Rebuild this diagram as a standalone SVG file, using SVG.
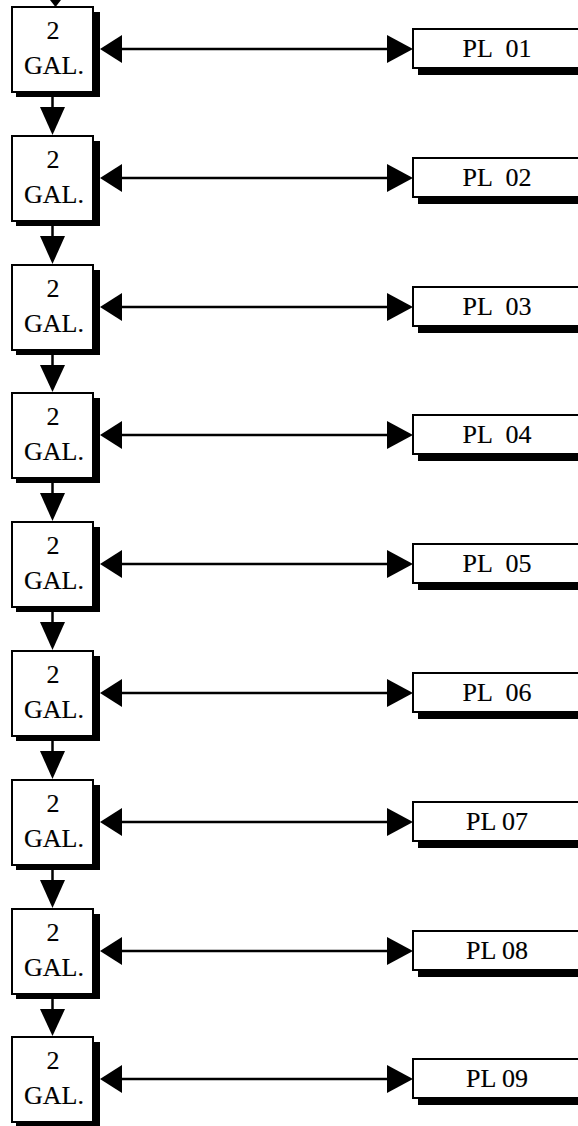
<svg xmlns="http://www.w3.org/2000/svg" width="578" height="1126" viewBox="0 0 578 1126">
<style>
.box{fill:#fff;stroke:#000;stroke-width:2}
.sh{fill:#000}
.ln{stroke:#000;stroke-width:2.5;fill:none}
.hd{fill:#000}
.t2{font-family:"Liberation Serif",serif;font-size:26px;text-anchor:middle;fill:#000;stroke:#000;stroke-width:0.15}
.tg{font-family:"Liberation Serif",serif;font-size:26px;text-anchor:middle;fill:#000;stroke:#000;stroke-width:0.15}
.tp{font-family:"Liberation Serif",serif;font-size:26px;text-anchor:middle;fill:#000;stroke:#000;stroke-width:0.15}
.wide{word-spacing:7px}
</style>
<rect width="578" height="1126" fill="#fff"/>
<g id="tank1" transform="translate(0,7)"><rect class="sh" x="16" y="5" width="84" height="85"/><rect class="box" x="12" y="0" width="81" height="85"/><text class="t2" x="53" y="32">2</text><text class="tg" x="54" y="67">GAL.</text></g>
<g id="tank2" transform="translate(0,136)"><rect class="sh" x="16" y="5" width="84" height="85"/><rect class="box" x="12" y="0" width="81" height="85"/><text class="t2" x="53" y="32">2</text><text class="tg" x="54" y="67">GAL.</text></g>
<g id="tank3" transform="translate(0,265)"><rect class="sh" x="16" y="5" width="84" height="85"/><rect class="box" x="12" y="0" width="81" height="85"/><text class="t2" x="53" y="32">2</text><text class="tg" x="54" y="67">GAL.</text></g>
<g id="tank4" transform="translate(0,393)"><rect class="sh" x="16" y="5" width="84" height="85"/><rect class="box" x="12" y="0" width="81" height="85"/><text class="t2" x="53" y="32">2</text><text class="tg" x="54" y="67">GAL.</text></g>
<g id="tank5" transform="translate(0,522)"><rect class="sh" x="16" y="5" width="84" height="85"/><rect class="box" x="12" y="0" width="81" height="85"/><text class="t2" x="53" y="32">2</text><text class="tg" x="54" y="67">GAL.</text></g>
<g id="tank6" transform="translate(0,651)"><rect class="sh" x="16" y="5" width="84" height="85"/><rect class="box" x="12" y="0" width="81" height="85"/><text class="t2" x="53" y="32">2</text><text class="tg" x="54" y="67">GAL.</text></g>
<g id="tank7" transform="translate(0,780)"><rect class="sh" x="16" y="5" width="84" height="85"/><rect class="box" x="12" y="0" width="81" height="85"/><text class="t2" x="53" y="32">2</text><text class="tg" x="54" y="67">GAL.</text></g>
<g id="tank8" transform="translate(0,909)"><rect class="sh" x="16" y="5" width="84" height="85"/><rect class="box" x="12" y="0" width="81" height="85"/><text class="t2" x="53" y="32">2</text><text class="tg" x="54" y="67">GAL.</text></g>
<g id="tank9" transform="translate(0,1037)"><rect class="sh" x="16" y="5" width="84" height="85"/><rect class="box" x="12" y="0" width="81" height="85"/><text class="t2" x="53" y="32">2</text><text class="tg" x="54" y="67">GAL.</text></g>

<g id="pl01" transform="translate(0,7)"><rect class="sh" x="418" y="29" width="200" height="39"/><rect class="box" x="413" y="22" width="200" height="39"/><text class="tp wide" x="497" y="50">PL 01</text></g>
<g id="pl02" transform="translate(0,136)"><rect class="sh" x="418" y="29" width="200" height="39"/><rect class="box" x="413" y="22" width="200" height="39"/><text class="tp wide" x="497" y="50">PL 02</text></g>
<g id="pl03" transform="translate(0,265)"><rect class="sh" x="418" y="29" width="200" height="39"/><rect class="box" x="413" y="22" width="200" height="39"/><text class="tp wide" x="497" y="50">PL 03</text></g>
<g id="pl04" transform="translate(0,393)"><rect class="sh" x="418" y="29" width="200" height="39"/><rect class="box" x="413" y="22" width="200" height="39"/><text class="tp wide" x="497" y="50">PL 04</text></g>
<g id="pl05" transform="translate(0,522)"><rect class="sh" x="418" y="29" width="200" height="39"/><rect class="box" x="413" y="22" width="200" height="39"/><text class="tp wide" x="497" y="50">PL 05</text></g>
<g id="pl06" transform="translate(0,651)"><rect class="sh" x="418" y="29" width="200" height="39"/><rect class="box" x="413" y="22" width="200" height="39"/><text class="tp wide" x="497" y="50">PL 06</text></g>
<g id="pl07" transform="translate(0,780)"><rect class="sh" x="418" y="29" width="200" height="39"/><rect class="box" x="413" y="22" width="200" height="39"/><text class="tp" x="497" y="50">PL 07</text></g>
<g id="pl08" transform="translate(0,909)"><rect class="sh" x="418" y="29" width="200" height="39"/><rect class="box" x="413" y="22" width="200" height="39"/><text class="tp" x="497" y="50">PL 08</text></g>
<g id="pl09" transform="translate(0,1037)"><rect class="sh" x="418" y="29" width="200" height="39"/><rect class="box" x="413" y="22" width="200" height="39"/><text class="tp" x="497" y="50">PL 09</text></g>

<g id="connectors">
<polygon class="hd" points="50,0 61,0 55.5,7"/>
<g transform="translate(0,7)"><line class="ln" x1="120" y1="42" x2="389" y2="42"/><polygon class="hd" points="100,42 122,28 122,56"/><polygon class="hd" points="413,42 387,28 387,56"/><line class="ln" x1="52.5" y1="90" x2="52.5" y2="102"/><polygon class="hd" points="40,100 65,100 52.5,128"/></g>
<g transform="translate(0,136)"><line class="ln" x1="120" y1="42" x2="389" y2="42"/><polygon class="hd" points="100,42 122,28 122,56"/><polygon class="hd" points="413,42 387,28 387,56"/><line class="ln" x1="52.5" y1="90" x2="52.5" y2="102"/><polygon class="hd" points="40,100 65,100 52.5,128"/></g>
<g transform="translate(0,265)"><line class="ln" x1="120" y1="42" x2="389" y2="42"/><polygon class="hd" points="100,42 122,28 122,56"/><polygon class="hd" points="413,42 387,28 387,56"/><line class="ln" x1="52.5" y1="90" x2="52.5" y2="102"/><polygon class="hd" points="40,100 65,100 52.5,127"/></g>
<g transform="translate(0,393)"><line class="ln" x1="120" y1="42" x2="389" y2="42"/><polygon class="hd" points="100,42 122,28 122,56"/><polygon class="hd" points="413,42 387,28 387,56"/><line class="ln" x1="52.5" y1="90" x2="52.5" y2="102"/><polygon class="hd" points="40,100 65,100 52.5,128"/></g>
<g transform="translate(0,522)"><line class="ln" x1="120" y1="42" x2="389" y2="42"/><polygon class="hd" points="100,42 122,28 122,56"/><polygon class="hd" points="413,42 387,28 387,56"/><line class="ln" x1="52.5" y1="90" x2="52.5" y2="102"/><polygon class="hd" points="40,100 65,100 52.5,128"/></g>
<g transform="translate(0,651)"><line class="ln" x1="120" y1="42" x2="389" y2="42"/><polygon class="hd" points="100,42 122,28 122,56"/><polygon class="hd" points="413,42 387,28 387,56"/><line class="ln" x1="52.5" y1="90" x2="52.5" y2="102"/><polygon class="hd" points="40,100 65,100 52.5,128"/></g>
<g transform="translate(0,780)"><line class="ln" x1="120" y1="42" x2="389" y2="42"/><polygon class="hd" points="100,42 122,28 122,56"/><polygon class="hd" points="413,42 387,28 387,56"/><line class="ln" x1="52.5" y1="90" x2="52.5" y2="102"/><polygon class="hd" points="40,100 65,100 52.5,128"/></g>
<g transform="translate(0,909)"><line class="ln" x1="120" y1="42" x2="389" y2="42"/><polygon class="hd" points="100,42 122,28 122,56"/><polygon class="hd" points="413,42 387,28 387,56"/><line class="ln" x1="52.5" y1="90" x2="52.5" y2="102"/><polygon class="hd" points="40,100 65,100 52.5,127"/></g>
<g transform="translate(0,1037)"><line class="ln" x1="120" y1="42" x2="389" y2="42"/><polygon class="hd" points="100,42 122,28 122,56"/><polygon class="hd" points="413,42 387,28 387,56"/></g>
</g>
</svg>
